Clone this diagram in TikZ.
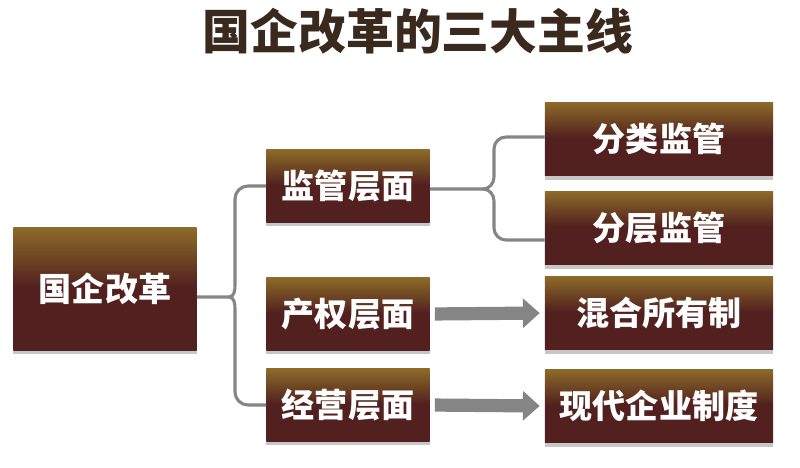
\documentclass[tikz,border=0pt]{standalone}
\usepackage{fontspec}
\newfontfamily\cjk{Noto Sans CJK SC}
\usepackage{tikz}
\usetikzlibrary{arrows.meta,shadows}
\definecolor{boxgold}{HTML}{8C6A28}
\definecolor{boxdark}{HTML}{52211F}
\definecolor{titlec}{HTML}{3A2A1E}
\definecolor{linec}{HTML}{858585}
\pgfdeclareverticalshading{boxshade}{100bp}{color(0bp)=(boxdark); color(25bp)=(boxdark); color(51bp)=(boxdark); color(75bp)=(boxgold); color(100bp)=(boxgold)}

\begin{document}
\begin{tikzpicture}[
  x=0.025cm, y=0.025cm,
  font=\cjk\bfseries,
  box/.style={rectangle, shading=boxshade, draw=none, text=white, inner sep=0pt,
              font=\cjk\bfseries\fontsize{23.5}{26}\selectfont,
              drop shadow={shadow xshift=0pt, shadow yshift=-3pt, opacity=0.22, fill=black}},
  root/.style={box, minimum width=4.575cm, minimum height=3.05cm},
  mid/.style={box, minimum width=4.075cm, minimum height=1.8cm},
  leaf/.style={box, minimum width=5.7cm, minimum height=1.825cm},
  conn/.style={draw=linec, line width=2.2pt},
  fat/.style={draw=linec, line width=0.33cm, -{Triangle[length=0.42cm,width=0.72cm]},
              shorten <=0.125cm, shorten >=0.125cm},
]
\useasboundingbox (0,0) rectangle (800,-467);
\node[text=titlec, font=\cjk\bfseries\fontsize{34}{38}\selectfont] (title) at (418,-31) {国企改革的三大主线};

\node[root] (gq) at (105,-289) {国企改革};
\node[mid]  (jy) at (348,-186) {监管层面};
\node[mid]  (cq) at (348,-314) {产权层面};
\node[mid]  (jj) at (348,-405) {经营层面};
\node[leaf] (fl) at (659,-139) {分类监管};
\node[leaf] (fc) at (659,-228) {分层监管};
\node[leaf] (hh) at (659,-313) {混合所有制};
\node[leaf] (xd) at (659,-406) {现代企业制度};

% left brace
\coordinate (tipa) at (229,-297);
\draw[conn] ([yshift=-0.2cm]gq.east) -- (tipa);
\draw[conn] (jy.west) -- (248,-186) to[out=180,in=90] (235,-199) -- (235,-285) to[out=-90,in=0] (tipa);
\draw[conn] (jj.west) -- (248,-405) to[out=180,in=-90] (235,-392) -- (235,-309) to[out=90,in=0] (tipa);
% right brace
\coordinate (tipb) at (483,-189);
\draw[conn] ([yshift=-0.075cm]jy.east) -- (tipb);
\draw[conn] ([yshift=0.05cm]fl.west) -- (506,-137) to[out=180,in=90] (494,-149) -- (494,-177) to[out=-90,in=0] (tipb);
\draw[conn] ([yshift=-0.3cm]fc.west) -- (506,-240) to[out=180,in=-90] (494,-228) -- (494,-201) to[out=90,in=0] (tipb);
% arrows
\draw[fat] (cq.east) -- (hh.west);
\draw[fat] (jj.east) -- (xd.west);
\end{tikzpicture}
\end{document}
